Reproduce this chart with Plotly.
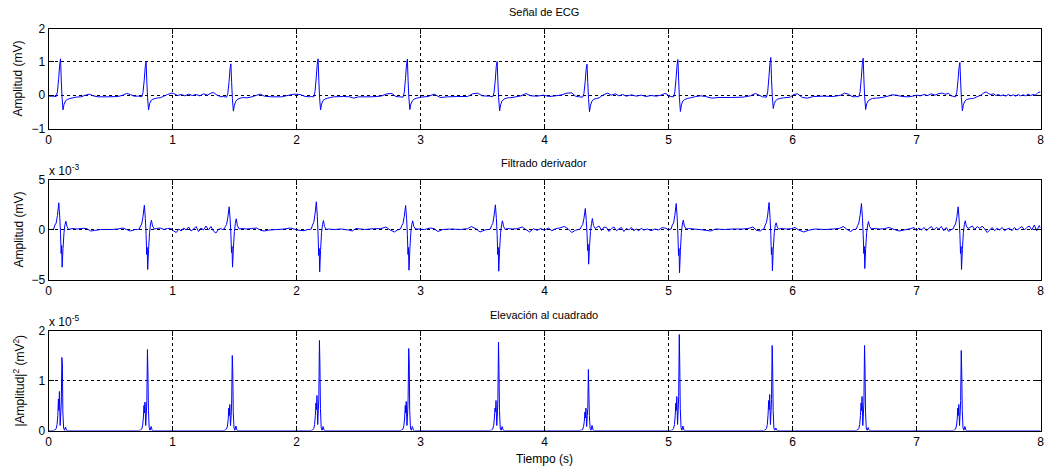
import plotly.graph_objects as go

# ---------------- data ----------------
beat_times = [0.097, 0.787, 1.471, 2.174, 2.894, 3.618, 4.343, 5.076, 5.825, 6.570, 7.350]

# ECG (mV) samples around each QRS, at these offsets from the R peak (s)
ecg_offsets = [-0.06, -0.035, -0.025, -0.015, -0.007, 0.0, 0.006, 0.012, 0.02, 0.028, 0.04, 0.055, 0.075, 0.1]
ecg_beats = [
    [-0.03, -0.04, 0.10, 0.50, 0.90, 1.09, 0.45, -0.05, -0.44, -0.28, -0.17, -0.13, -0.10, -0.08],
    [-0.03, -0.05, 0.08, 0.45, 0.85, 1.00, 0.40, -0.08, -0.44, -0.26, -0.16, -0.12, -0.10, -0.08],
    [-0.04, -0.06, 0.05, 0.40, 0.80, 0.94, 0.38, -0.10, -0.48, -0.30, -0.18, -0.12, -0.09, -0.07],
    [-0.04, -0.05, 0.10, 0.52, 0.92, 1.09, 0.45, -0.06, -0.44, -0.27, -0.16, -0.12, -0.09, -0.07],
    [-0.05, -0.06, 0.08, 0.50, 0.90, 1.08, 0.44, -0.06, -0.43, -0.27, -0.17, -0.12, -0.09, -0.07],
    [-0.03, -0.05, 0.07, 0.45, 0.86, 1.01, 0.42, -0.08, -0.47, -0.29, -0.17, -0.12, -0.09, -0.07],
    [-0.05, -0.06, 0.05, 0.40, 0.78, 0.93, 0.38, -0.10, -0.50, -0.30, -0.18, -0.12, -0.10, -0.08],
    [-0.04, -0.05, 0.09, 0.50, 0.90, 1.07, 0.45, -0.07, -0.49, -0.29, -0.17, -0.13, -0.10, -0.08],
    [-0.05, -0.06, 0.10, 0.55, 0.95, 1.13, 0.48, -0.04, -0.40, -0.25, -0.16, -0.12, -0.10, -0.08],
    [-0.04, -0.05, 0.10, 0.52, 0.93, 1.11, 0.46, -0.05, -0.43, -0.26, -0.17, -0.13, -0.10, -0.09],
    [-0.03, -0.05, 0.08, 0.45, 0.83, 0.98, 0.40, -0.08, -0.47, -0.29, -0.18, -0.13, -0.11, -0.10],
]
# ECG baseline between beats: (time s, mV)
ecg_baseline = [
    (0.0, -0.03), (0.02, -0.03),
    (0.22, -0.06), (0.26, -0.05), (0.30, 0.0), (0.33, 0.03), (0.36, -0.02), (0.40, -0.05), (0.48, -0.05),
    (0.56, -0.04), (0.60, 0.0), (0.63, 0.05), (0.66, 0.02), (0.69, -0.03), (0.72, -0.03),
    (0.90, -0.08), (0.93, -0.03), (0.96, 0.02), (0.99, 0.06), (1.01, 0.05), (1.04, -0.01), (1.07, 0.02),
    (1.10, -0.02), (1.13, 0.03), (1.16, -0.01), (1.19, 0.02), (1.22, -0.02), (1.25, 0.04), (1.28, 0.0),
    (1.31, 0.06), (1.33, 0.08), (1.36, 0.0), (1.39, -0.05), (1.41, -0.04),
    (1.60, -0.08), (1.64, -0.05), (1.68, 0.0), (1.71, 0.03), (1.74, -0.03), (1.80, -0.05), (1.88, -0.05),
    (1.94, 0.0), (1.98, 0.03), (2.03, 0.02), (2.07, -0.04), (2.11, -0.05),
    (2.30, -0.05), (2.38, -0.04), (2.43, -0.05), (2.46, -0.09), (2.50, -0.05), (2.60, -0.05), (2.68, -0.03),
    (2.73, 0.04), (2.77, 0.05), (2.80, -0.04), (2.83, -0.05),
    (3.00, -0.06), (3.06, -0.04), (3.11, 0.03), (3.16, -0.07), (3.22, -0.05), (3.30, -0.04), (3.38, -0.04),
    (3.42, 0.04), (3.46, 0.06), (3.50, -0.02), (3.55, -0.03),
    (3.72, -0.08), (3.77, -0.05), (3.81, -0.02), (3.85, 0.05), (3.89, -0.02), (3.94, -0.03), (3.99, 0.0),
    (4.04, -0.04), (4.09, -0.02), (4.14, 0.01), (4.18, 0.06), (4.22, 0.07), (4.25, -0.03), (4.28, -0.05),
    (4.45, -0.05), (4.48, 0.02), (4.51, 0.06), (4.54, 0.0), (4.57, 0.04), (4.60, -0.02), (4.63, 0.02),
    (4.66, -0.03), (4.70, 0.01), (4.74, -0.03), (4.78, 0.0), (4.82, -0.04), (4.86, -0.01), (4.90, -0.03),
    (4.94, 0.0), (4.97, 0.05), (4.99, 0.03), (5.01, -0.05),
    (5.18, -0.08), (5.22, -0.04), (5.26, -0.02), (5.30, -0.04), (5.35, -0.09), (5.40, -0.07), (5.50, -0.07),
    (5.60, -0.06), (5.66, -0.02), (5.70, 0.05), (5.73, 0.0), (5.76, -0.05),
    (5.93, -0.08), (5.98, -0.06), (6.01, 0.02), (6.04, 0.04), (6.08, -0.07), (6.12, -0.09), (6.17, -0.04),
    (6.25, -0.03), (6.33, -0.04), (6.39, 0.0), (6.42, 0.06), (6.45, 0.03), (6.48, -0.04), (6.50, -0.05),
    (6.68, -0.09), (6.72, -0.07), (6.77, -0.03), (6.80, 0.01), (6.84, 0.0), (6.88, -0.04), (6.93, -0.05),
    (6.97, -0.03), (7.00, 0.0), (7.03, -0.02), (7.06, 0.02), (7.09, -0.01), (7.12, 0.04), (7.15, 0.0),
    (7.18, 0.05), (7.21, 0.06), (7.23, 0.03), (7.26, 0.05), (7.28, -0.02),
    (7.46, -0.10), (7.48, -0.06), (7.50, -0.03), (7.52, 0.0), (7.54, 0.06), (7.56, 0.10), (7.58, 0.05),
    (7.60, 0.02), (7.62, 0.04), (7.64, -0.01), (7.66, 0.02), (7.68, -0.02), (7.70, 0.01), (7.72, -0.03),
    (7.74, 0.02), (7.76, -0.02), (7.78, 0.01), (7.80, -0.03), (7.82, 0.02), (7.84, -0.02), (7.86, 0.01),
    (7.88, -0.02), (7.90, 0.03), (7.92, -0.01), (7.94, 0.02), (7.96, 0.0), (7.98, 0.08), (8.0, 0.10),
]

# Derivative filter output (units of 1e-3 mV) around each QRS
deriv_offsets = [-0.07, -0.055, -0.045, -0.035, -0.025, -0.014, -0.006, 0.0, 0.005, 0.009, 0.013, 0.02, 0.028, 0.036, 0.043, 0.052, 0.066]
deriv_beats = [
    [0.0, 0.05, 0.45, 0.65, 1.40, 2.67, 1.20, -0.40, -2.40, -1.60, -3.77, -1.90, -0.30, 0.50, 0.83, 0.30, 0.00],
    [0.0, 0.05, 0.35, 0.55, 1.30, 2.43, 1.10, -0.50, -2.50, -1.80, -4.00, -2.00, -0.30, 0.55, 0.93, 0.35, 0.05],
    [0.0, 0.05, 0.30, 0.50, 1.20, 2.27, 1.00, -0.50, -2.30, -1.70, -3.77, -1.90, -0.20, 0.60, 1.07, 0.40, 0.05],
    [0.0, 0.05, 0.45, 0.70, 1.50, 2.77, 1.30, -0.50, -2.60, -1.90, -4.23, -2.10, -0.30, 0.50, 0.90, 0.30, 0.00],
    [0.0, 0.05, 0.40, 0.60, 1.30, 2.40, 1.10, -0.50, -2.50, -1.80, -4.07, -2.00, -0.30, 0.50, 0.87, 0.30, 0.05],
    [0.0, 0.05, 0.40, 0.60, 1.35, 2.47, 1.10, -0.50, -2.50, -1.80, -4.17, -2.00, -0.30, 0.50, 0.87, 0.30, 0.00],
    [0.0, 0.05, 0.30, 0.50, 1.10, 2.10, 0.90, -0.40, -2.10, -1.50, -3.47, -1.70, -0.20, 0.60, 1.10, 0.40, 0.10],
    [0.0, 0.05, 0.45, 0.65, 1.40, 2.60, 1.20, -0.50, -2.60, -1.90, -4.33, -2.10, -0.30, 0.55, 0.93, 0.35, 0.05],
    [0.0, 0.05, 0.45, 0.70, 1.45, 2.70, 1.20, -0.50, -2.50, -1.80, -4.13, -2.00, -0.30, 0.40, 0.67, 0.25, 0.00],
    [0.0, 0.05, 0.40, 0.65, 1.40, 2.60, 1.20, -0.50, -2.40, -1.70, -3.90, -1.90, -0.30, 0.45, 0.80, 0.30, 0.05],
    [0.0, 0.05, 0.35, 0.55, 1.20, 2.27, 1.00, -0.50, -2.40, -1.70, -4.00, -2.00, -0.30, 0.50, 0.87, 0.35, 0.10],
]
deriv_baseline = [
    (0.0, 0.0), (0.02, 0.0),
    (0.19, 0.10), (0.23, 0.05), (0.28, 0.12), (0.31, 0.08), (0.34, -0.15), (0.37, -0.10), (0.42, 0.0),
    (0.50, 0.0), (0.56, 0.05), (0.60, 0.15), (0.63, 0.0), (0.66, -0.15), (0.70, 0.0),
    (0.87, 0.10), (0.90, 0.15), (0.93, 0.0), (0.96, 0.10), (0.99, 0.08), (1.01, -0.15), (1.03, -0.30),
    (1.05, 0.05), (1.07, -0.15), (1.09, 0.15), (1.11, -0.05), (1.13, 0.25), (1.15, -0.15), (1.17, 0.05),
    (1.19, 0.30), (1.21, -0.20), (1.23, 0.15), (1.25, -0.05), (1.27, 0.35), (1.29, -0.05), (1.31, 0.30),
    (1.33, -0.15), (1.35, -0.35), (1.37, 0.0), (1.39, 0.10),
    (1.56, 0.10), (1.60, 0.05), (1.64, 0.10), (1.68, 0.15), (1.71, -0.08), (1.74, -0.15), (1.78, -0.05),
    (1.85, 0.0), (1.90, 0.05), (1.95, 0.15), (1.98, 0.05), (2.02, -0.08), (2.06, -0.12), (2.09, 0.0),
    (2.26, 0.05), (2.30, 0.0), (2.36, 0.05), (2.42, -0.05), (2.45, -0.15), (2.48, 0.10), (2.55, 0.0),
    (2.62, 0.08), (2.68, 0.08), (2.72, 0.25), (2.76, -0.08), (2.79, -0.25), (2.82, 0.0),
    (2.98, 0.05), (3.03, 0.0), (3.08, 0.15), (3.11, 0.08), (3.14, -0.20), (3.18, 0.0), (3.25, 0.05),
    (3.32, 0.0), (3.38, 0.08), (3.41, 0.30), (3.45, 0.05), (3.48, -0.25), (3.52, -0.05), (3.54, 0.0),
    (3.70, 0.10), (3.74, 0.05), (3.78, 0.08), (3.82, 0.25), (3.85, 0.0), (3.88, -0.25), (3.91, 0.08),
    (3.94, -0.08), (3.97, 0.10), (4.00, -0.08), (4.03, 0.15), (4.06, -0.12), (4.09, 0.08), (4.12, 0.15),
    (4.16, 0.30), (4.19, 0.08), (4.22, -0.30), (4.25, -0.08), (4.27, 0.0),
    (4.42, 0.20), (4.44, 0.35), (4.46, -0.10), (4.48, 0.25), (4.50, 0.20), (4.52, -0.20), (4.54, 0.10),
    (4.56, 0.25), (4.58, -0.12), (4.60, 0.05), (4.62, 0.20), (4.64, -0.20), (4.66, 0.10), (4.68, -0.05),
    (4.70, 0.20), (4.72, -0.12), (4.74, 0.05), (4.76, -0.12), (4.78, 0.12), (4.80, -0.05), (4.83, 0.05),
    (4.86, -0.12), (4.89, 0.05), (4.92, -0.05), (4.95, 0.20), (4.98, 0.12), (5.00, -0.05),
    (5.16, 0.10), (5.20, 0.05), (5.25, 0.0), (5.30, -0.08), (5.34, -0.15), (5.38, 0.05), (5.45, 0.0),
    (5.52, 0.05), (5.60, 0.05), (5.65, 0.12), (5.68, 0.25), (5.71, -0.08), (5.74, -0.15),
    (5.90, 0.10), (5.95, 0.05), (5.99, 0.08), (6.02, 0.20), (6.05, -0.05), (6.09, -0.25), (6.13, -0.08),
    (6.18, 0.05), (6.26, 0.0), (6.33, 0.05), (6.38, 0.12), (6.41, 0.30), (6.44, 0.0), (6.47, -0.20), (6.49, 0.0),
    (6.65, 0.10), (6.70, 0.05), (6.74, 0.08), (6.78, 0.20), (6.82, 0.0), (6.86, -0.15), (6.90, -0.05),
    (6.95, 0.08), (6.98, 0.20), (7.00, -0.12), (7.02, 0.15), (7.04, -0.05), (7.06, 0.20), (7.08, -0.12),
    (7.10, 0.12), (7.12, 0.30), (7.14, -0.05), (7.16, 0.20), (7.18, 0.05), (7.20, 0.30), (7.22, -0.12),
    (7.24, 0.20), (7.26, -0.20), (7.28, 0.0),
    (7.43, 0.20), (7.45, 0.35), (7.47, 0.0), (7.49, 0.30), (7.51, 0.10), (7.53, 0.35), (7.55, 0.05),
    (7.57, -0.30), (7.59, -0.05), (7.61, 0.20), (7.63, -0.12), (7.65, 0.12), (7.67, -0.05), (7.69, 0.20),
    (7.71, -0.12), (7.73, 0.05), (7.75, 0.12), (7.77, -0.12), (7.79, 0.20), (7.81, -0.05), (7.83, 0.12),
    (7.85, 0.30), (7.87, -0.05), (7.89, 0.20), (7.91, 0.35), (7.93, -0.05), (7.95, 0.45), (7.97, -0.12),
    (7.99, 0.40), (8.0, 0.15),
]

# Squared output (units of 1e-5 mV^2) around each QRS
sq_offsets = [-0.06, -0.045, -0.035, -0.028, -0.022, -0.017, -0.013, -0.009, -0.003, 0.002, 0.006, 0.011, 0.015, 0.019, 0.025, 0.032, 0.04, 0.05]
sq_beats = [
    [0.0, 0.01, 0.04, 0.12, 0.30, 0.63, 0.40, 0.78, 0.10, 0.35, 0.55, 1.46, 1.31, 0.35, 0.05, 0.0, 0.07, 0.0],
    [0.0, 0.01, 0.03, 0.10, 0.25, 0.50, 0.35, 0.57, 0.10, 0.35, 0.60, 1.62, 1.15, 0.40, 0.06, 0.0, 0.08, 0.0],
    [0.0, 0.01, 0.03, 0.09, 0.22, 0.45, 0.30, 0.52, 0.10, 0.30, 0.55, 1.50, 1.20, 0.36, 0.05, 0.0, 0.09, 0.0],
    [0.0, 0.01, 0.04, 0.12, 0.30, 0.55, 0.42, 0.70, 0.12, 0.40, 0.65, 1.80, 1.30, 0.44, 0.06, 0.0, 0.08, 0.0],
    [0.0, 0.01, 0.03, 0.10, 0.25, 0.50, 0.35, 0.58, 0.10, 0.35, 0.62, 1.64, 1.35, 0.40, 0.05, 0.0, 0.08, 0.0],
    [0.0, 0.01, 0.03, 0.10, 0.25, 0.45, 0.38, 0.60, 0.10, 0.35, 0.62, 1.77, 1.18, 0.40, 0.05, 0.0, 0.08, 0.0],
    [0.0, 0.01, 0.02, 0.08, 0.18, 0.37, 0.25, 0.45, 0.08, 0.30, 0.44, 1.22, 0.75, 0.30, 0.04, 0.0, 0.10, 0.0],
    [0.0, 0.01, 0.04, 0.12, 0.30, 0.55, 0.40, 0.68, 0.12, 0.40, 0.68, 1.92, 1.31, 0.44, 0.06, 0.0, 0.09, 0.0],
    [0.0, 0.01, 0.04, 0.12, 0.32, 0.60, 0.42, 0.72, 0.12, 0.38, 0.62, 1.70, 1.25, 0.40, 0.05, 0.0, 0.05, 0.0],
    [0.0, 0.01, 0.04, 0.12, 0.30, 0.55, 0.40, 0.68, 0.10, 0.35, 0.58, 1.70, 1.20, 0.36, 0.05, 0.0, 0.06, 0.0],
    [0.0, 0.01, 0.03, 0.09, 0.22, 0.45, 0.30, 0.52, 0.10, 0.35, 0.60, 1.60, 1.15, 0.40, 0.05, 0.0, 0.08, 0.0],
]
sq_baseline = [(0.0, 0.0), (8.0, 0.0)]

x_ticks = [0, 1, 2, 3, 4, 5, 6, 7, 8]
titles = ["Señal de ECG", "Filtrado derivador", "Elevación al cuadrado"]
y_labels = ["Amplitud (mV)", "Amplitud (mV)", "|Amplitud|<sup>2</sup> (mV<sup>2</sup>)"]
x_label = "Tiempo (s)"


# ---------------- assemble series ----------------
def assemble(offsets, beats, baseline):
    pts = []
    for t_r, vals in zip(beat_times, beats):
        pts += [(t_r + o, v) for o, v in zip(offsets, vals)]
    pts += list(baseline)
    pts.sort(key=lambda p: p[0])
    return [p[0] for p in pts], [p[1] for p in pts]


ecg_x, ecg_y = assemble(ecg_offsets, ecg_beats, ecg_baseline)
der_x, der_y = assemble(deriv_offsets, deriv_beats, deriv_baseline)
sq_x, sq_y = assemble(sq_offsets, sq_beats, sq_baseline)

W, H = 1044, 468
FONT = "Liberation Sans, Arial, Helvetica, sans-serif"
line = dict(color="#0000ff", width=1, simplify=False)

fig = go.Figure()
fig.add_trace(go.Scatter(x=ecg_x, y=ecg_y, mode="lines", line=line, xaxis="x", yaxis="y"))
fig.add_trace(go.Scatter(x=der_x, y=der_y, mode="lines", line=line, xaxis="x2", yaxis="y2"))
fig.add_trace(go.Scatter(x=sq_x, y=sq_y, mode="lines", line=line, xaxis="x3", yaxis="y3"))

x0, x1 = 48.5 / W, 1040.5 / W
panels = [(28.5, 128.5), (179.5, 279.5), (330.5, 430.5)]


def ydom(top, bot):
    return [1 - bot / H, 1 - top / H]


common = dict(
    showline=True, linecolor="black", linewidth=1, mirror="ticks",
    ticks="inside", ticklen=5, tickcolor="black", tickwidth=1,
    showgrid=True, gridcolor="black", griddash="3px,3px", gridwidth=1,
    zeroline=False, automargin=False, ticklabeloverflow="allow",
    tickfont=dict(family=FONT, size=12, color="black"),
)

layout = dict(
    width=W, height=H, margin=dict(l=0, r=0, t=0, b=0, pad=0, autoexpand=False),
    paper_bgcolor="white", plot_bgcolor="white", showlegend=False,
    font=dict(family=FONT, size=12, color="black"),
)
yranges = [[-1, 2], [-5, 5], [0, 2]]
yticks = [[-1, 0, 1, 2], [-5, 0, 5], [0, 1, 2]]
for i in range(3):
    sfx = "" if i == 0 else str(i + 1)
    layout["xaxis" + sfx] = dict(common, domain=[x0, x1], range=[0, 8], tickvals=x_ticks,
                                 anchor="y" + sfx)
    layout["yaxis" + sfx] = dict(common, domain=ydom(*panels[i]), range=yranges[i],
                                 tickvals=yticks[i], anchor="x" + sfx)
fig.update_layout(**layout)

ann = []
title_y = [12, 163, 315]
for i in range(3):
    ann.append(dict(text=titles[i], x=(48 + 1040) / 2 / W, y=1 - title_y[i] / H, xref="paper", yref="paper",
                    showarrow=False, font=dict(family=FONT, size=11, color="black"),
                    xanchor="center", yanchor="middle"))
    top, bot = panels[i]
    ann.append(dict(text=y_labels[i], x=18 / W, y=1 - (top + bot) / 2 / H, xref="paper", yref="paper",
                    showarrow=False, textangle=-90, font=dict(family=FONT, size=12, color="black"),
                    xanchor="center", yanchor="middle"))
ann.append(dict(text=x_label, x=(48 + 1040) / 2 / W, y=1 - 459 / H, xref="paper", yref="paper",
                showarrow=False, font=dict(family=FONT, size=12, color="black"),
                xanchor="center", yanchor="middle"))
for exp_txt, ypx in [("x 10<sup>-3</sup>", 170), ("x 10<sup>-5</sup>", 321)]:
    ann.append(dict(text=exp_txt, x=47 / W, y=1 - ypx / H, xref="paper", yref="paper",
                    showarrow=False, font=dict(family=FONT, size=12, color="black"),
                    xanchor="left", yanchor="middle"))
fig.update_layout(annotations=ann)

fig.write_html("out.html")
